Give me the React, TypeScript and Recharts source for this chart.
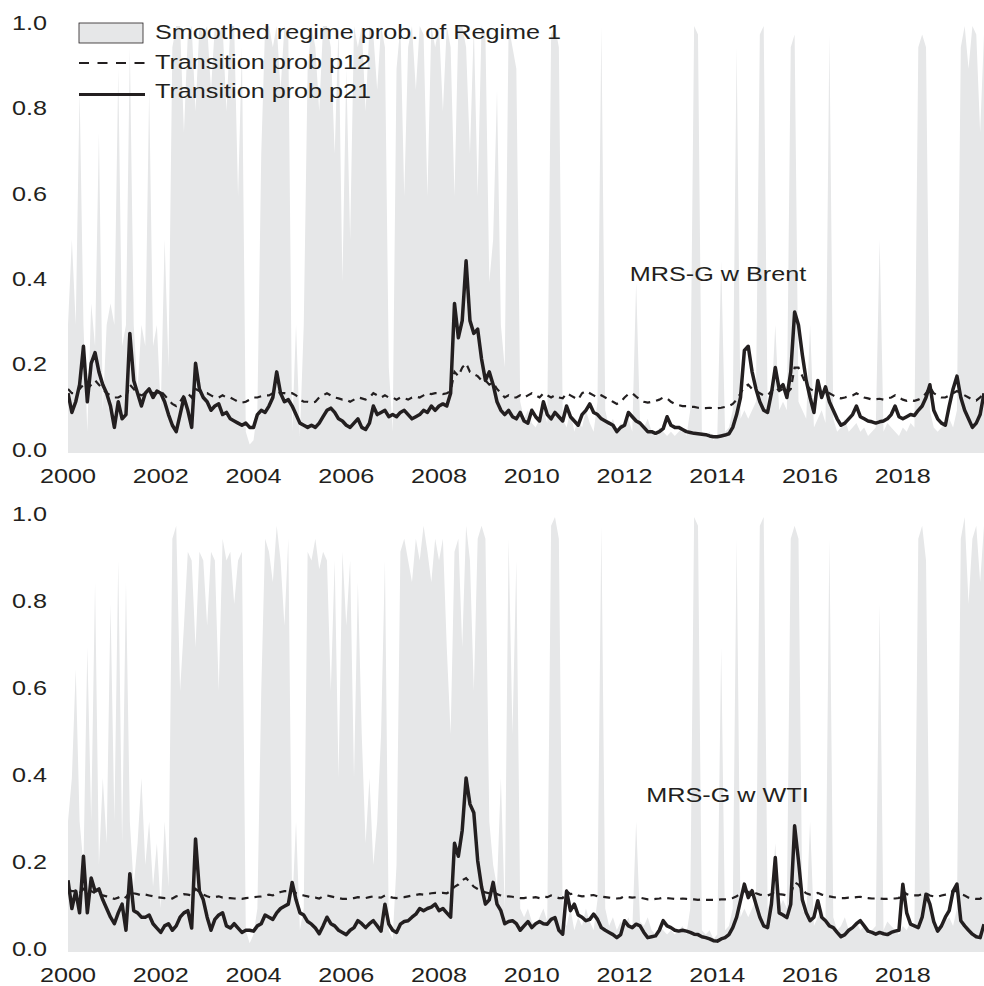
import React from 'react';
import { ComposedChart, Area, Line, XAxis, YAxis } from 'recharts';

const FONT = "'Liberation Sans', Arial, Helvetica, sans-serif";
const INK = '#231f20';
const SHADE = '#e6e7e8';

const yearTicks = [2000, 2002, 2004, 2006, 2008, 2010, 2012, 2014, 2016, 2018];
const probTicks = [0, 0.2, 0.4, 0.6, 0.8, 1.0];

// monthly values, Jan 2000 .. Oct 2019
const brentRegime = [
  0.3, 0.5, 0.3, 0.85, 0.3, 0.05, 0.35, 0.25, 0.75, 0.1, 0.3, 0.35,
  0.3, 0.9, 0.25, 0.3, 0.95, 0.3, 0.15, 0.3, 0.25, 0.85, 0.25, 0.3,
  0.1, 0.5, 0.2, 0.95, 1.0, 1.0, 0.75, 0.98, 1.0, 0.8, 1.0, 0.98,
  1.0, 0.85, 1.0, 0.98, 1.0, 0.8, 1.0, 1.0, 0.6, 0.95, 0.05, 0.02,
  0.03, 0.1, 0.7, 1.0, 1.0, 0.95, 1.0, 0.85, 1.0, 0.98, 0.05, 0.3,
  0.04, 0.3, 0.9, 1.0, 0.95, 0.8, 1.0, 1.0, 0.95, 0.7, 1.0, 0.4,
  0.9, 0.5, 1.0, 0.95, 1.0, 0.8, 1.0, 0.98, 0.85, 1.0, 0.95, 0.2,
  0.05, 0.9, 1.0, 0.6, 0.95, 1.0, 0.85, 1.0, 0.98, 0.6, 1.0, 0.95,
  1.0, 0.8, 1.0, 0.95, 0.6, 1.0, 1.0, 0.95, 0.7, 1.0, 0.6, 1.0,
  0.98, 0.4, 0.5, 0.85, 0.3, 0.2, 1.0, 0.95, 0.9, 0.12, 0.08, 0.1,
  0.07, 0.06, 0.08, 0.1, 0.07, 0.98, 1.0, 0.95, 0.08, 0.06, 0.1, 0.05,
  0.08, 0.06, 0.1, 0.07, 0.05, 0.12, 1.0, 0.1, 0.06, 0.08, 0.05, 0.07,
  0.06, 0.08, 0.05, 0.4, 0.07, 0.06, 0.08, 0.05, 0.04, 0.06, 0.05, 0.04,
  0.05, 0.04, 0.05, 0.06, 0.04, 0.1, 1.0, 0.98, 0.05, 0.04, 0.05, 0.03,
  0.04, 0.45, 0.05, 0.06, 0.1, 0.95, 0.08, 0.1, 0.08, 0.1, 0.12, 0.98,
  1.0, 0.1, 0.12, 0.3, 0.1, 0.12, 0.1, 0.95, 0.98, 0.12, 0.1, 0.08,
  0.3, 0.06, 0.08, 0.1, 0.07, 0.98, 0.08, 0.05, 0.06, 0.08, 0.05, 0.06,
  0.07, 0.05, 0.06, 0.04, 0.05, 0.06, 0.5, 0.05, 0.07, 0.06, 0.05, 0.04,
  0.06, 0.05, 0.07, 0.06, 0.95, 0.98, 0.95, 0.1, 0.06, 0.05, 0.06, 0.07,
  0.08, 0.06, 0.1, 0.95, 1.0, 0.9, 1.0, 0.98, 0.75, 0.98,
];

const brentP12 = [
  0.15, 0.14, 0.14, 0.15, 0.16, 0.15, 0.16, 0.17, 0.16, 0.15, 0.14, 0.135,
  0.13, 0.13, 0.135, 0.13, 0.16, 0.15, 0.14, 0.135, 0.14, 0.145, 0.14, 0.14,
  0.145, 0.135, 0.125, 0.115, 0.11, 0.12, 0.135, 0.14, 0.13, 0.15, 0.145, 0.14,
  0.14, 0.135, 0.13, 0.13, 0.135, 0.13, 0.13, 0.125, 0.12, 0.118, 0.12, 0.125,
  0.13, 0.13, 0.133, 0.135, 0.135, 0.14, 0.145, 0.14, 0.14, 0.138, 0.14, 0.135,
  0.125, 0.12, 0.12, 0.118, 0.12, 0.13, 0.135, 0.14, 0.135, 0.13, 0.128, 0.125,
  0.125, 0.12, 0.125, 0.13, 0.128, 0.125, 0.13, 0.14, 0.135, 0.13, 0.135, 0.13,
  0.13, 0.125, 0.13, 0.128, 0.125, 0.13, 0.132, 0.13, 0.135, 0.14, 0.138, 0.14,
  0.14, 0.138, 0.14, 0.145, 0.19, 0.18, 0.2, 0.21, 0.19, 0.185, 0.18, 0.17,
  0.17, 0.16, 0.165, 0.15, 0.14, 0.13, 0.135, 0.13, 0.13, 0.135, 0.13, 0.135,
  0.14, 0.135, 0.13, 0.14, 0.135, 0.13, 0.135, 0.13, 0.128, 0.14, 0.135, 0.13,
  0.125, 0.14, 0.145, 0.14, 0.135, 0.13, 0.135, 0.13, 0.125, 0.12, 0.115, 0.12,
  0.13, 0.138, 0.14, 0.132, 0.125, 0.12, 0.118, 0.12, 0.122, 0.125, 0.13, 0.128,
  0.12, 0.115, 0.112, 0.11, 0.11, 0.108, 0.108, 0.106, 0.105, 0.105, 0.106, 0.105,
  0.105, 0.106, 0.108, 0.11, 0.115, 0.125, 0.14, 0.155, 0.16, 0.15, 0.145, 0.14,
  0.135, 0.135, 0.145, 0.155, 0.145, 0.15, 0.14, 0.15, 0.2, 0.2, 0.18, 0.16,
  0.15, 0.145, 0.15, 0.14, 0.145, 0.14, 0.135, 0.13, 0.128, 0.13, 0.133, 0.135,
  0.14, 0.135, 0.13, 0.128, 0.125, 0.126, 0.127, 0.125, 0.128, 0.13, 0.135, 0.13,
  0.125, 0.122, 0.124, 0.122, 0.125, 0.13, 0.14, 0.155, 0.14, 0.135, 0.13, 0.13,
  0.135, 0.14, 0.145, 0.14, 0.135, 0.13, 0.125, 0.123, 0.13, 0.14,
];

const brentP21 = [
  0.14, 0.095, 0.12, 0.16, 0.25, 0.12, 0.21, 0.235, 0.19, 0.16, 0.14, 0.11,
  0.06, 0.12, 0.08, 0.09, 0.28, 0.17, 0.14, 0.11, 0.14, 0.15, 0.13, 0.145,
  0.14, 0.12, 0.09, 0.065, 0.05, 0.09, 0.13, 0.1, 0.06, 0.21, 0.15, 0.13,
  0.12, 0.1, 0.11, 0.115, 0.09, 0.095, 0.08, 0.075, 0.07, 0.065, 0.07, 0.06,
  0.06, 0.09, 0.1, 0.095, 0.11, 0.13, 0.19, 0.14, 0.12, 0.125, 0.11, 0.09,
  0.07, 0.065, 0.06, 0.065, 0.06, 0.07, 0.085, 0.1, 0.105, 0.095, 0.08, 0.075,
  0.065, 0.06, 0.07, 0.08, 0.06, 0.055, 0.07, 0.11, 0.09, 0.095, 0.1, 0.085,
  0.09, 0.085, 0.095, 0.1, 0.09, 0.08, 0.085, 0.09, 0.1, 0.095, 0.11, 0.1,
  0.11, 0.115, 0.11, 0.14, 0.35, 0.27, 0.31, 0.45, 0.31, 0.28, 0.29, 0.22,
  0.17, 0.19, 0.16, 0.12, 0.1, 0.09, 0.1, 0.085, 0.08, 0.095, 0.075, 0.07,
  0.1, 0.085, 0.075, 0.12, 0.09, 0.08, 0.095, 0.085, 0.075, 0.11, 0.085, 0.075,
  0.065, 0.09, 0.1, 0.115, 0.095, 0.09, 0.08, 0.075, 0.07, 0.065, 0.05, 0.06,
  0.065, 0.095, 0.085, 0.075, 0.07, 0.06, 0.05, 0.05, 0.046, 0.05, 0.057, 0.085,
  0.065, 0.06, 0.06, 0.055, 0.05, 0.048, 0.046, 0.045, 0.044, 0.043, 0.04, 0.038,
  0.038, 0.04, 0.042, 0.045, 0.06, 0.09, 0.13, 0.24, 0.25, 0.19, 0.15, 0.12,
  0.1, 0.095, 0.14, 0.2, 0.15, 0.16, 0.13, 0.19, 0.33, 0.3, 0.23, 0.17,
  0.13, 0.095, 0.17, 0.13, 0.155, 0.12, 0.1, 0.08, 0.065, 0.07, 0.08, 0.09,
  0.11, 0.085, 0.08, 0.075, 0.073, 0.07, 0.073, 0.075, 0.08, 0.09, 0.11, 0.085,
  0.08, 0.085, 0.09, 0.088, 0.1, 0.11, 0.13, 0.16, 0.1, 0.08, 0.07, 0.065,
  0.11, 0.15, 0.18, 0.13, 0.1, 0.08, 0.06, 0.07, 0.09, 0.14,
];

const wtiRegime = [
  0.3, 0.4, 0.65, 0.3, 0.2, 0.7, 0.3, 0.85, 0.2, 0.4, 0.25, 0.8,
  0.3, 0.9, 0.25, 0.85, 0.3, 0.15, 0.25, 0.4, 0.2, 0.3, 0.15, 0.25,
  0.1, 0.3, 0.15, 0.95, 0.98, 0.6, 0.75, 0.92, 0.9, 0.7, 0.92, 0.9,
  0.75, 0.92, 0.9, 0.6, 0.95, 0.9, 0.92, 0.8, 0.9, 0.92, 0.05, 0.02,
  0.04, 0.1, 0.6, 0.95, 0.92, 0.85, 0.98, 0.9, 0.75, 0.95, 0.1, 0.3,
  0.05, 0.1, 0.92, 0.9, 0.95, 0.88, 0.92, 0.9, 0.6, 0.9, 0.4, 0.92,
  0.75, 0.9, 0.4, 0.85, 0.5, 0.25, 0.4, 0.2, 0.3, 0.5, 0.9, 0.05,
  0.03, 0.2, 0.92, 0.95, 0.9, 0.85, 0.95, 0.9, 0.98, 0.92, 0.85, 0.95,
  0.9, 0.95, 0.7, 0.5, 0.92, 0.95, 0.7, 0.98, 0.9, 0.6, 0.95, 0.98,
  0.95, 0.3, 0.2, 0.15, 0.4, 0.1, 0.95, 0.5, 0.9, 0.1, 0.08, 0.1,
  0.07, 0.06, 0.08, 0.1, 0.07, 0.98, 1.0, 0.95, 0.08, 0.06, 0.1, 0.05,
  0.08, 0.06, 0.1, 0.07, 0.05, 0.12, 0.98, 0.1, 0.06, 0.08, 0.05, 0.07,
  0.06, 0.08, 0.05, 0.3, 0.07, 0.06, 0.08, 0.05, 0.04, 0.06, 0.05, 0.04,
  0.05, 0.04, 0.05, 0.06, 0.04, 0.1, 1.0, 0.98, 0.05, 0.04, 0.05, 0.03,
  0.04, 0.7, 0.05, 0.06, 0.1, 0.95, 0.08, 0.1, 0.08, 0.1, 0.12, 0.98,
  1.0, 0.1, 0.12, 0.25, 0.1, 0.12, 0.1, 0.95, 0.98, 0.95, 0.1, 0.08,
  0.3, 0.06, 0.08, 0.1, 0.07, 0.95, 0.08, 0.05, 0.06, 0.08, 0.05, 0.06,
  0.07, 0.05, 0.06, 0.04, 0.05, 0.06, 0.8, 0.05, 0.07, 0.06, 0.05, 0.04,
  0.06, 0.05, 0.07, 0.06, 0.95, 0.98, 0.9, 0.1, 0.06, 0.05, 0.06, 0.07,
  0.08, 0.06, 0.1, 0.95, 1.0, 0.8, 0.95, 0.98, 0.85, 0.98,
];

const wtiP12 = [
  0.145, 0.14, 0.14, 0.135, 0.145, 0.135, 0.14, 0.135, 0.13, 0.13, 0.128, 0.125,
  0.122, 0.125, 0.13, 0.125, 0.14, 0.135, 0.133, 0.13, 0.132, 0.13, 0.128, 0.126,
  0.125, 0.124, 0.125, 0.123, 0.128, 0.13, 0.133, 0.132, 0.13, 0.145, 0.138, 0.132,
  0.128, 0.125, 0.126, 0.128, 0.125, 0.124, 0.124, 0.123, 0.122, 0.122, 0.124, 0.125,
  0.126, 0.127, 0.128, 0.13, 0.132, 0.13, 0.135, 0.138, 0.14, 0.14, 0.145, 0.135,
  0.132, 0.13, 0.128, 0.125, 0.125, 0.123, 0.128, 0.13, 0.128, 0.126, 0.124, 0.122,
  0.122, 0.123, 0.124, 0.126, 0.125, 0.124, 0.126, 0.128, 0.126, 0.125, 0.13, 0.127,
  0.125, 0.124, 0.125, 0.126, 0.128, 0.13, 0.131, 0.133, 0.132, 0.133, 0.135, 0.136,
  0.135, 0.136, 0.135, 0.14, 0.15, 0.155, 0.165, 0.17, 0.16, 0.15, 0.145, 0.14,
  0.137, 0.135, 0.14, 0.133, 0.13, 0.127, 0.128, 0.127, 0.125, 0.124, 0.124, 0.126,
  0.125, 0.126, 0.124, 0.127, 0.126, 0.13, 0.127, 0.124, 0.124, 0.14, 0.133, 0.135,
  0.13, 0.128, 0.129, 0.13, 0.131, 0.128, 0.127, 0.126, 0.125, 0.124, 0.123, 0.124,
  0.128, 0.126, 0.125, 0.126, 0.125, 0.123, 0.121, 0.121, 0.122, 0.123, 0.125, 0.124,
  0.123, 0.122, 0.122, 0.123, 0.122, 0.121, 0.121, 0.12, 0.121, 0.12, 0.12, 0.12,
  0.12, 0.121, 0.121, 0.122, 0.124, 0.128, 0.135, 0.14, 0.138, 0.14, 0.135, 0.132,
  0.13, 0.13, 0.133, 0.14, 0.133, 0.132, 0.13, 0.133, 0.16, 0.155, 0.142, 0.135,
  0.132, 0.133, 0.136, 0.132, 0.13, 0.128, 0.126, 0.125, 0.124, 0.124, 0.125, 0.125,
  0.126, 0.127, 0.125, 0.124, 0.123, 0.123, 0.123, 0.122, 0.122, 0.123, 0.123, 0.124,
  0.14, 0.133, 0.13, 0.13, 0.13, 0.133, 0.135, 0.13, 0.128, 0.127, 0.13, 0.132,
  0.135, 0.14, 0.14, 0.133, 0.13, 0.125, 0.123, 0.122, 0.122, 0.13,
];

const wtiP21 = [
  0.165, 0.1, 0.14, 0.09, 0.22, 0.09, 0.17, 0.14, 0.145, 0.12, 0.1, 0.08,
  0.065, 0.09, 0.11, 0.05, 0.18, 0.095, 0.09, 0.08, 0.08, 0.085, 0.065, 0.055,
  0.045, 0.06, 0.065, 0.05, 0.06, 0.08, 0.09, 0.095, 0.055, 0.26, 0.14, 0.12,
  0.08, 0.05, 0.075, 0.085, 0.09, 0.06, 0.055, 0.065, 0.055, 0.045, 0.05, 0.05,
  0.048, 0.06, 0.065, 0.085, 0.08, 0.075, 0.09, 0.1, 0.105, 0.11, 0.16, 0.12,
  0.09, 0.085, 0.07, 0.064, 0.055, 0.042, 0.06, 0.08, 0.065, 0.06, 0.05, 0.045,
  0.04, 0.05, 0.056, 0.072, 0.065, 0.056, 0.065, 0.072, 0.06, 0.048, 0.11, 0.064,
  0.05, 0.045, 0.064, 0.07, 0.072, 0.08, 0.087, 0.1, 0.095, 0.1, 0.103, 0.11,
  0.095, 0.1, 0.09, 0.08, 0.25, 0.22, 0.28, 0.4, 0.34, 0.32, 0.21, 0.15,
  0.11, 0.12, 0.16, 0.11, 0.095, 0.065, 0.07, 0.072, 0.065, 0.05, 0.06, 0.07,
  0.056, 0.065, 0.07, 0.065, 0.064, 0.075, 0.079, 0.05, 0.041, 0.14, 0.095, 0.11,
  0.085, 0.08, 0.072, 0.075, 0.087, 0.075, 0.056, 0.05, 0.045, 0.04, 0.033, 0.04,
  0.072, 0.06, 0.056, 0.064, 0.06, 0.045, 0.033, 0.035, 0.037, 0.05, 0.072, 0.06,
  0.056, 0.05, 0.048, 0.05, 0.048, 0.045, 0.041, 0.04, 0.035, 0.033, 0.03, 0.026,
  0.025, 0.03, 0.033, 0.04, 0.056, 0.08, 0.118, 0.156, 0.125, 0.141, 0.11, 0.08,
  0.06, 0.056, 0.11, 0.217, 0.09, 0.085, 0.079, 0.11, 0.29, 0.21, 0.12, 0.09,
  0.072, 0.08, 0.118, 0.08, 0.072, 0.06, 0.056, 0.045, 0.035, 0.04, 0.05, 0.056,
  0.065, 0.072, 0.06, 0.048, 0.045, 0.041, 0.045, 0.042, 0.04, 0.045, 0.048, 0.05,
  0.156, 0.09, 0.064, 0.06, 0.056, 0.08, 0.133, 0.11, 0.07, 0.048, 0.06, 0.08,
  0.095, 0.14, 0.156, 0.072, 0.06, 0.05, 0.041, 0.035, 0.033, 0.064,
];

const months = brentP21.map((_, i) => 2000 + i / 12);

function buildRows(regime: number[], p12: number[], p21: number[]) {
  return months.map((t, i) => ({ t, regime: regime[i], p12: p12[i], p21: p21[i] }));
}

const brentRows = buildRows(brentRegime, brentP12, brentP21);
const wtiRows = buildRows(wtiRegime, wtiP12, wtiP21);

// labels in the source are set wide, so stretch them horizontally
const renderXTick = (props: any) => (
  <text
    key={props.payload.value}
    transform={`translate(${props.x},${props.y + 30}) scale(1.2,1)`}
    textAnchor="middle"
    fontSize={21}
    fontFamily={FONT}
    fill={INK}
  >
    {props.payload.value}
  </text>
);

const renderYTick = (props: any) => (
  <text
    key={props.payload.value}
    transform={`translate(${props.x - 21},${props.y + 3.8}) scale(1.2,1)`}
    textAnchor="end"
    fontSize={21}
    fontFamily={FONT}
    fill={INK}
  >
    {Number(props.payload.value).toFixed(1)}
  </text>
);

interface PanelProps {
  rows: { t: number; regime: number; p12: number; p21: number }[];
  top: number;
  height: number;
  marginTop: number;
  axisHeight: number;
}

function Panel({ rows, top, height, marginTop, axisHeight }: PanelProps) {
  return (
    <div style={{ position: 'absolute', left: 0, top, width: 984, height }}>
      <ComposedChart
        width={984}
        height={height}
        data={rows}
        margin={{ top: marginTop, right: 0, bottom: 0, left: 0 }}
      >
        <XAxis
          dataKey="t"
          type="number"
          domain={[2000, 2019.75]}
          ticks={yearTicks}
          interval={0}
          height={axisHeight}
          axisLine={false}
          tickLine={false}
          tickSize={0}
          tickMargin={0}
          tick={renderXTick}
          allowDataOverflow
        />
        <YAxis
          type="number"
          domain={[0, 1]}
          ticks={probTicks}
          interval={0}
          width={68}
          axisLine={false}
          tickLine={false}
          tickSize={0}
          tickMargin={0}
          tick={renderYTick}
        />
        <Area
          dataKey="regime"
          type="linear"
          fill={SHADE}
          fillOpacity={1}
          stroke="none"
          isAnimationActive={false}
        />
        <Line
          dataKey="p12"
          type="linear"
          stroke={INK}
          strokeWidth={2.2}
          strokeDasharray="7 6"
          dot={false}
          isAnimationActive={false}
        />
        <Line
          dataKey="p21"
          type="linear"
          stroke={INK}
          strokeWidth={3.5}
          strokeLinejoin="round"
          dot={false}
          isAnimationActive={false}
        />
      </ComposedChart>
    </div>
  );
}

function Label({ x, y, anchor = 'start', children }: { x: number; y: number; anchor?: string; children: React.ReactNode }) {
  return (
    <text
      transform={`translate(${x},${y}) scale(1.2,1)`}
      textAnchor={anchor}
      fontSize={21}
      fontFamily={FONT}
      fill={INK}
    >
      {children}
    </text>
  );
}

export default function App() {
  return (
    <div style={{ position: 'absolute', left: 0, top: 0, width: 984, height: 986, background: '#fff' }}>
      <Panel rows={brentRows} top={0} height={492} marginTop={26} axisHeight={39} />
      <Panel rows={wtiRows} top={492} height={494} marginTop={25} axisHeight={34} />
      <svg
        width={984}
        height={986}
        style={{ position: 'absolute', left: 0, top: 0, pointerEvents: 'none' }}
      >
        <rect x={79} y={23} width={64} height={20} fill={SHADE} stroke={INK} strokeWidth={0.8} />
        <Label x={155} y={38.7}>Smoothed regime prob. of Regime 1</Label>
        <line x1={79} y1={63} x2={145} y2={63} stroke={INK} strokeWidth={2} strokeDasharray="10 8.5" />
        <Label x={155} y={69.2}>Transition prob p12</Label>
        <line x1={79} y1={94.5} x2={145} y2={94.5} stroke={INK} strokeWidth={3} />
        <Label x={155} y={98}>Transition prob p21</Label>
        <Label x={718} y={280.5} anchor="middle">MRS-G w Brent</Label>
        <Label x={727.5} y={802.2} anchor="middle">MRS-G w WTI</Label>
      </svg>
    </div>
  );
}
